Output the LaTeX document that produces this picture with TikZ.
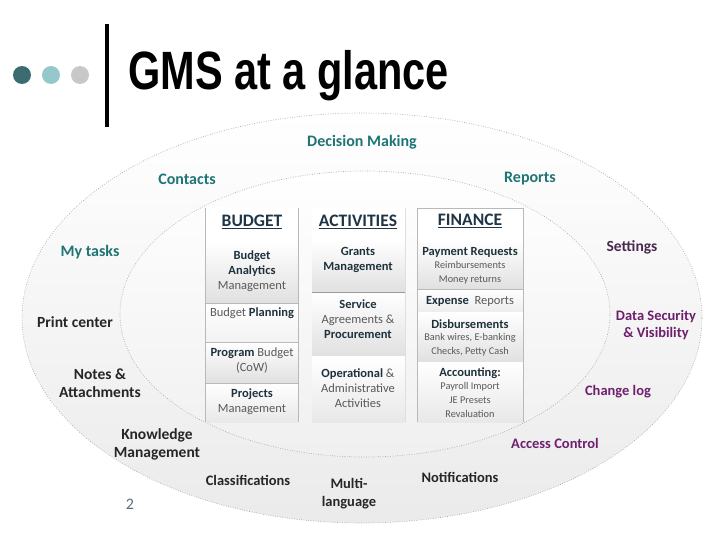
\documentclass[tikz,border=0pt]{standalone}
\usepackage{fontspec}
\setmainfont{Carlito}
\newfontfamily\titlefont{Liberation Sans}
\usepackage{xcolor}
\usetikzlibrary{positioning}

\definecolor{dotdark}{HTML}{3B6C72}
\definecolor{dotmid}{HTML}{95C8CB}
\definecolor{dotlight}{HTML}{C8C8C8}
\definecolor{tealtxt}{HTML}{1F7474}
\definecolor{purptxt}{HTML}{6E1F6E}
\definecolor{setttxt}{HTML}{4A2A52}
\definecolor{darktxt}{HTML}{262626}
\definecolor{headtxt}{HTML}{1F3444}
\definecolor{celltxt}{HTML}{595959}
\definecolor{boldtxt}{HTML}{1F323C}
\definecolor{pagetxt}{HTML}{5A6E74}

\newcommand{\fsz}[2]{\fontsize{#1}{#2}\selectfont}
\newcommand{\cellb}[1]{\textbf{\color{boldtxt}#1}}

\begin{document}
\begin{tikzpicture}[x=1pt, y=-1pt,
  ring/.style={draw=gray!70, line width=0.6pt, dash pattern=on 0.8pt off 1.6pt},
  cell/.style={top color=white, bottom color=black!12},
  sep/.style={draw=gray!55, line width=0.6pt},
  dot/.style={circle, inner sep=0pt, minimum size=18pt},
  tlbl/.style={font=\bfseries\fsz{16}{18}, text=tealtxt, align=center, inner sep=1pt},
  dlbl/.style={font=\bfseries\fsz{15.5}{18}, text=darktxt, align=center, inner sep=1pt},
  plbl/.style={font=\bfseries\fsz{14.5}{17}, text=purptxt, align=center, inner sep=1pt},
  colhd/.style={font=\bfseries\fsz{17.5}{20}, text=headtxt, inner sep=1pt},
  celltext/.style={font=\fsz{12.5}{15}, text=celltxt, align=center, inner sep=0pt},
  cellsmall/.style={font=\fsz{10.3}{14}, text=celltxt, align=center, inner sep=0pt}]
  \useasboundingbox (0,0) rectangle (720,540);

  % Title
  \node[dot, fill=dotdark] (dota) at (22,75) {};
  \node[dot, fill=dotmid] (dotb) at (51,75) {};
  \node[dot, fill=dotlight] (dotc) at (80,75) {};
  \draw[line width=4pt] (107,24) -- (107,127);
  \node[anchor=base west, inner sep=0pt, font=\titlefont\bfseries\fsz{41.5}{44}] (title) at (128,90) {\scalebox{1}[1.3]{GMS at a glance}};

  % Ellipses
  \shade[top color=white, bottom color=black!8] (362,318) ellipse [x radius=340pt, y radius=205pt];
  \draw[ring] (362,318) ellipse [x radius=340pt, y radius=205pt];
  \shade[top color=white, bottom color=black!6] (365,314) ellipse [x radius=245pt, y radius=143pt];
  \draw[ring] (365,314) ellipse [x radius=245pt, y radius=143pt];

  % Budget column
  \shade[top color=white, bottom color=white] (205,208) rectangle (298,240);
  \shade[cell] (205,240) rectangle (298,303);
  \shade[top color=white, bottom color=black!5] (205,303) rectangle (298,342);
  \shade[cell] (205,342) rectangle (298,383);
  \shade[cell, bottom color=black!9] (205,383) rectangle (298,422);
  \draw[sep] (205,303) -- (298,303);
  \draw[sep] (205,342) -- (298,342);
  \draw[sep] (205,383) -- (298,383);
  \draw[sep] (205,208) -- (205,422);
  \draw[sep] (298,208) -- (298,422);

  % Activities column
  \shade[top color=white, bottom color=white] (312,208) rectangle (405,240);
  \shade[cell] (312,240) rectangle (405,292);
  \shade[cell] (312,292) rectangle (405,356);
  \shade[cell, bottom color=black!9] (312,356) rectangle (405,422);
  \draw[sep, draw=gray!80] (312,292) -- (405,292);
  \draw[sep, draw=gray!25] (405,208) -- (405,422);

  % Finance column
  \shade[top color=white, bottom color=white] (417,208) rectangle (523,240);
  \shade[cell] (417,240) rectangle (523,289);
  \shade[cell, bottom color=black!7] (417,289) rectangle (523,312);
  \shade[cell] (417,312) rectangle (523,362);
  \shade[cell, bottom color=black!9] (417,362) rectangle (523,422);
  \draw[sep] (417,289) -- (523,289);
  \draw[sep] (417,208) -- (523,208);
  \draw[sep] (417,208) -- (417,422);
  \draw[sep] (523,208) -- (523,422);

  % Column headings
  \node[colhd] (budget) at (252,222) {\underline{BUDGET}};
  \node[colhd] (activities) at (358,222) {\underline{ACTIVITIES}};
  \node[colhd] (finance) at (470,221) {\underline{FINANCE}};

  % Budget cells
  \node[celltext] (analytics) at (252,271) {\cellb{Budget}\\\cellb{Analytics}\\Management};
  \node[celltext] (planning) at (252,313) {Budget \cellb{Planning}};
  \node[celltext] (program) at (252,361) {\cellb{Program} Budget\\(CoW)};
  \node[celltext] (projects) at (252,402) {\cellb{Projects}\\Management};

  % Activities cells
  \node[celltext] (grants) at (358,260) {\cellb{Grants}\\\cellb{Management}};
  \node[celltext] (service) at (358,319) {\cellb{Service}\\Agreements \&\\\cellb{Procurement}};
  \node[celltext] (operational) at (358,388) {\cellb{Operational} \&\\Administrative\\Activities};

  % Finance cells
  \node[celltext] (payreq) at (470,252) {\cellb{Payment Requests}};
  \node[cellsmall] (payreqsub) at (470,273) {Reimbursements\\Money returns};
  \node[celltext] (expense) at (470,301) {\cellb{Expense}\ \ Reports};
  \node[celltext] (disburse) at (470,324) {\cellb{Disbursements}};
  \node[cellsmall] (disbursesub) at (470,345) {Bank wires, E-banking\\Checks, Petty Cash};
  \node[celltext] (accounting) at (470,373) {\cellb{Accounting:}};
  \node[cellsmall] (accountingsub) at (470,400) {Payroll Import\\JE Presets\\Revaluation};

  % Ring labels
  \node[tlbl] (decision) at (362,142) {Decision Making};
  \node[tlbl] (contacts) at (187,179) {Contacts};
  \node[tlbl] (reports) at (530,179) {Reports};
  \node[tlbl] (mytasks) at (90,252) {My tasks};
  \node[plbl, text=setttxt, font=\bfseries\fsz{15.5}{18}] (settings) at (632,247) {Settings};
  \node[dlbl] (print) at (75,322) {Print center};
  \node[plbl] (security) at (656,325) {Data Security\\\& Visibility};
  \node[dlbl] (notes) at (100,383) {Notes \&\\Attachments};
  \node[plbl] (changelog) at (618,392) {Change log};
  \node[dlbl] (knowledge) at (157,444) {Knowledge\\Management};
  \node[plbl] (access) at (555,443) {Access Control};
  \node[dlbl, font=\bfseries\fsz{14.5}{18}] (classif) at (248,480) {Classifications};
  \node[dlbl, font=\bfseries\fsz{14.5}{18}] (notif) at (460,477) {Notifications};
  \node[dlbl, font=\bfseries\fsz{14.5}{18}] (multi) at (349,494) {Multi-\\language};
  \node[font=\fsz{16}{18}, text=pagetxt] (pagenum) at (130,504) {2};
\end{tikzpicture}
\end{document}
